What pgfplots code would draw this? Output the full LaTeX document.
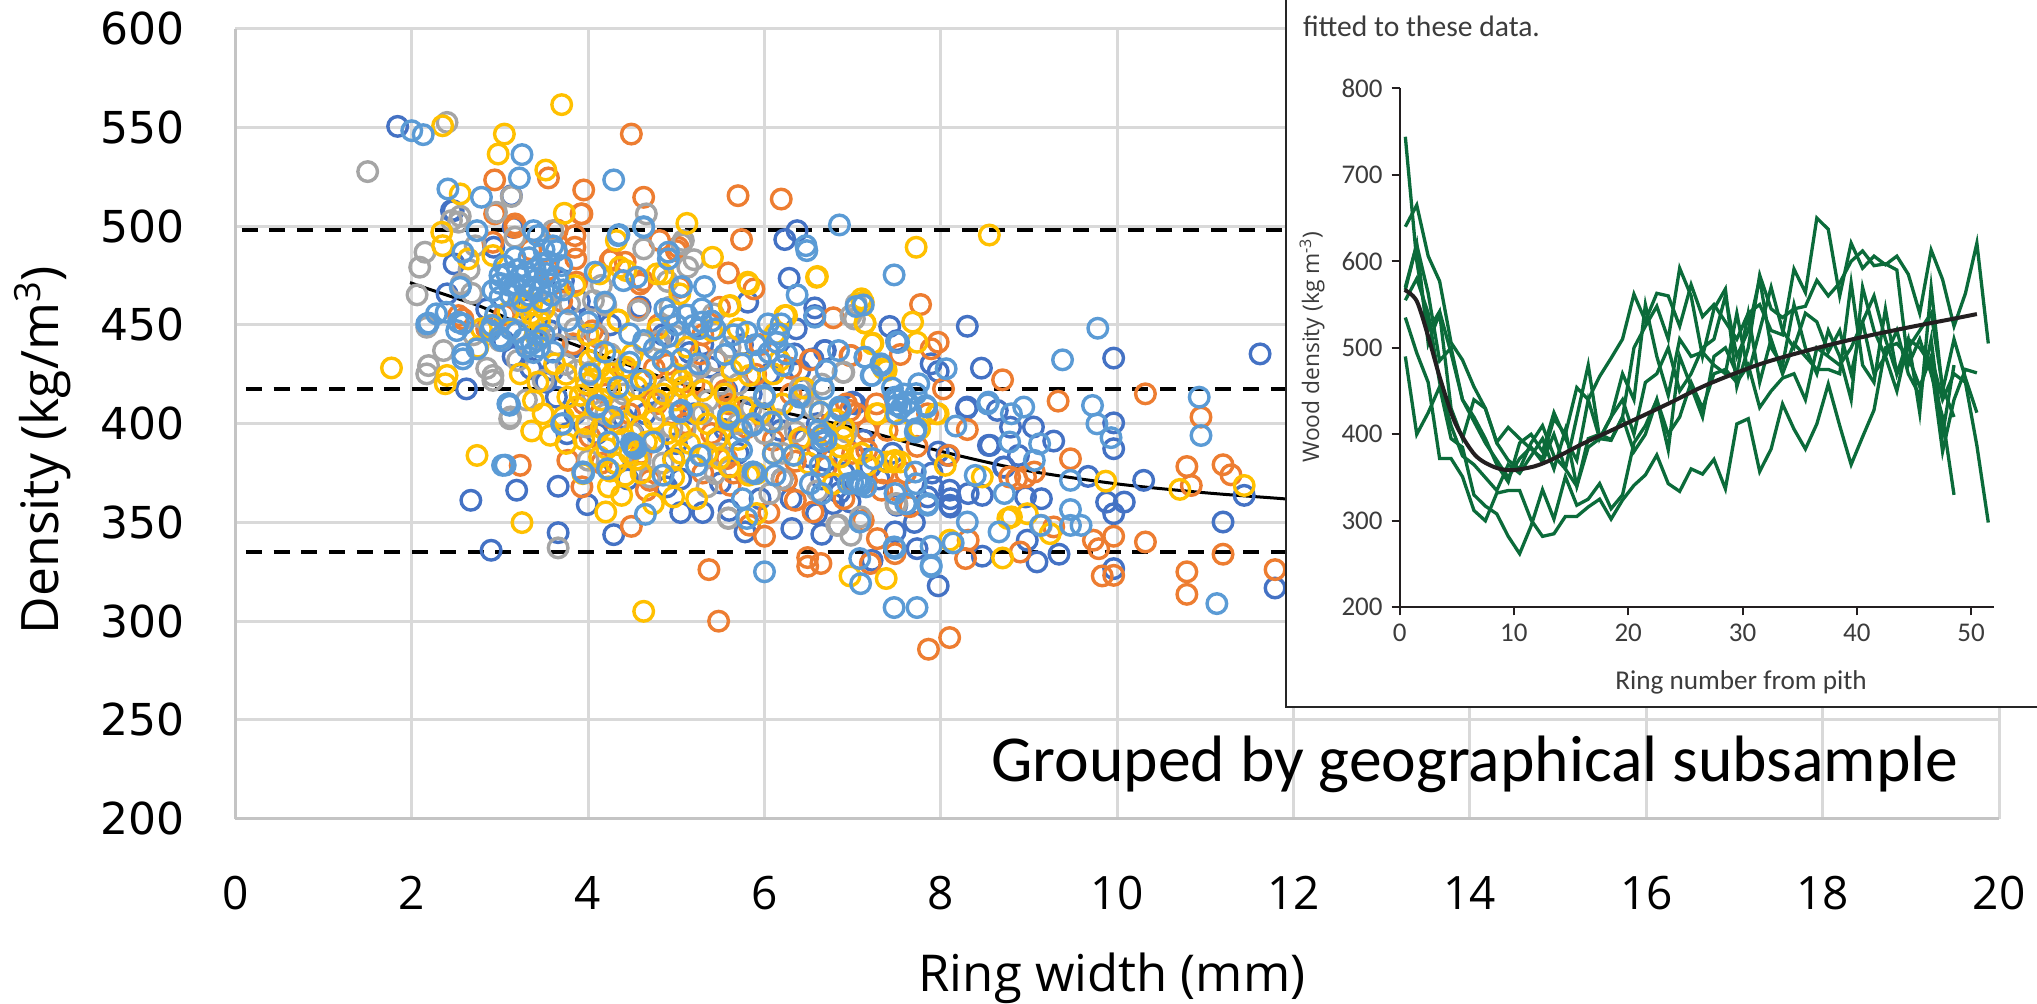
\documentclass[border=0pt]{standalone}
\usepackage{pgfplots}
\usepackage{fontspec}
\pgfplotsset{compat=1.18}
\setmainfont{Open Sans}
\newfontfamily\calfont{Carlito}
\newfontfamily\dejafont{DejaVu Sans}
\definecolor{gridc}{HTML}{D9D9D9}
\definecolor{axc}{HTML}{C4C4C4}
\definecolor{cblue}{HTML}{4472C4}
\definecolor{corange}{HTML}{ED7D31}
\definecolor{cgray}{HTML}{A5A5A5}
\definecolor{cyellow}{HTML}{FFC000}
\definecolor{clight}{HTML}{5B9BD5}
\definecolor{cgreen}{HTML}{0B6B3A}
\definecolor{ink}{HTML}{231F20}
\definecolor{inkg}{HTML}{3C3C3C}
\pgfplotsset{ser/.style={only marks,mark=o,mark size=4.9pt,color=#1,mark options={line width=1.7pt,draw=#1,solid}},
 gl/.style={cgreen,line width=1.65pt,line join=miter,no markers}}
\begin{document}
\begin{tikzpicture}[x=1pt,y=1pt]
\path[use as bounding box] (0,0) rectangle (1018.5,501.5);
\begin{axis}[at={(117.7pt,92.15pt)},anchor=south west,scale only axis,width=881.8pt,height=395.05pt,
 xmin=0,xmax=20,ymin=200,ymax=600,
 xtick={0,2,...,20},ytick={200,250,...,600},
 grid=major,major grid style={draw=gridc,line width=1.5pt},
 axis x line*=bottom,axis y line*=left,axis line style={-,draw=axc,line width=1.6pt},
 tick style={draw=none},
 /pgf/number format/assume math mode=true,
 xticklabel style={anchor=center,yshift=-37pt,font=\fontsize{23}{26}\selectfont,text=black},
 yticklabel style={anchor=east,xshift=-22pt,font=\dejafont\fontsize{22}{26}\selectfont,text=black},
 axis on top=false]
\addplot[black,line width=2pt,dash pattern=on 8pt off 5.85pt] coordinates {(0.07,497.8)(20,497.8)};
\addplot[black,line width=2pt,dash pattern=on 8pt off 5.85pt] coordinates {(0.12,417.3)(20,417.3)};
\addplot[black,line width=2pt,dash pattern=on 8pt off 5.85pt] coordinates {(0.12,335)(20,335)};
\addplot[black,line width=1.5pt,smooth] coordinates {(1.98,471.4)(2.4,465)(2.8,459)(3.3,449)(3.87,439.6)(4.5,429)(5,421)(6,408)(7,398)(8,386)(8.96,376.4)(10,369.5)(11,365)(11.88,362)(12.4,360)};
% dark blue
\addplot[ser=cblue] coordinates {(1.84,550.5)(2.45,507.8)(2.48,480.9)(2.40,465.7)(2.93,489.3)(3.13,515.4)(2.62,417.6)
(2.67,361.2)(3.19,366.3)(3.66,368.3)(3.99,359)(3.66,344.8)(2.9,335.9)(4.29,343.8)(3.76,394.9)(5.05,355)(5.3,355)(5.6,356.1)(5.78,345.2)
(6.37,497.7)(6.23,493.2)(6.28,473.6)(6.57,458.6)(6.57,454.7)(6.36,448)(5.81,461.5)(7.42,449.2)(8.3,449.3)(9.96,433.2)(11.62,435.3)(8.46,428.1)(7.89,430.3)(7.97,426.4)(8.3,408.4)(8.64,406.7)(9.05,398.3)(9.28,391.2)(9.96,400.4)(9.96,387.3)(8.54,389)(8.79,398.2)(8.88,383.9)(7.97,385.6)(9.67,373.3)(10.3,371.3)(11.44,363.7)(8.72,378)(6.69,437)(6.55,432.8)(7.0,410.9)(7.5,442)
(6.31,346.9)(6.65,344)(7.97,317.9)(11.79,316.8)(9.96,326.6)(11.2,350.2)(9.34,333.9)(9.09,330)(8.47,332.9)(7.73,336.7)(8.98,341)(7.48,345.2)(7.22,330.8)(8.11,357.8)(8.11,362)(8.31,364.6)(8.47,363.7)(9.14,362)(9.88,360.3)(10.08,360.3)(9.96,354.4)(8.96,362.9)(7.85,362.9)(6.59,354.4)
(2.47,507.8)(3.04,442)(3.57,447)(3.52,421)(3.72,472.4)(4.59,459)(4.02,453.9)(3.6,427)(3.83,438.7)(3.64,413.4)(3.15,499.4)
(6.68,437)(6.34,435.3)(6.4,426.9)(5.57,416.8)(5.38,428.6)(5.0,389.9)(4.97,382.3)(5.46,391.6)(4.51,395)(4.89,368)(4.4,403)(5.2,405)
(8.1,366.3)(8.1,358.7)(7.91,368)(8.29,407.6)(8.56,389)(8.07,384)(7.03,410)(7.12,391.6)(6.97,360.4)(6.78,359.5)(7.5,358.7)(6.7,381.4)(6.18,396.6)(6.52,383.1)(8.71,378)(6.0,405)(5.7,385)(6.2,372)(6.9,375)(4.7,415)(4.3,380)(5.5,370)(6.6,400)(7.3,372)(7.7,350)(5.95,362)
(3.3,458)(3.9,462)(4.25,450)(4.85,445)(5.15,436)(5.75,440)(6.05,425)(4.1,395)(4.65,405)(5.3,440)(5.85,415)(6.45,392)(6.85,365)(7.2,378)(5.05,372)(4.45,372)(3.85,405)(6.3,362)(7.45,385)(6.65,372)(7.9,375)(3.35,428)(3.15,434)(2.85,458)(5.55,397)};
% orange
\addplot[ser=corange] coordinates {(4.49,546.6)(2.94,523.4)(3.55,524.4)(3.95,518.3)(3.93,506.2)(4.63,514.6)(5.7,515.4)(5.74,493.2)(5.59,476.3)(3.85,495.2)(3.85,489.3)(3.86,483.4)(4.25,482.5)(4.42,481.7)(4.81,492.7)(5.0,487.6)(3.17,499.4)(2.94,506.2)(4.59,470.7)(5.49,458.9)(2.53,454.7)(2.85,448)(3.87,471.6)
(3.23,378.9)(3.77,381.4)(4.49,348)(5.37,326.1)(5.48,300)(3.93,368)
(6.19,513.7)(7.77,460.3)(8.7,422.2)(9.33,411.4)(10.32,415.1)(10.95,403.3)(9.47,382.2)(10.79,378.3)(11.2,379.2)(11.29,374.1)(10.84,368.7)(6.78,453.6)(5.88,468.2)(6.52,432.3)(7.97,441.2)(7.89,437.9)(7.54,435)(8.03,417.6)(8.3,397)(6.98,434.5)(8.09,383.9)(8.86,372.1)(8.96,373)(9.06,375.5)(7.73,388.5)
(7.86,285.8)(8.1,291.7)(6.0,343)(6.49,332.2)(6.49,327.8)(6.64,329.2)(9.83,322.9)(9.96,323.2)(10.79,325)(10.79,313.6)(11.79,326.1)(11.2,333.9)(10.32,340.1)(9.96,343)(9.73,341)(9.79,336.7)(8.9,335)(8.28,331.7)(8.31,341)(7.48,334.2)(7.2,329.2)(7.28,341.8)(7.12,351)(9.28,347.7)(6.55,355.3)(6.35,361.2)
(3.92,506.2)(4.27,483.4)(2.92,491.8)(3.17,501.1)(4.62,472.4)(2.58,453)(3.83,440.4)(4.11,443.8)(4.74,411.7)(4.57,458.1)(4.47,405)
(5.02,489.3)(5.04,469)(5.27,435.3)(6.97,434.5)(7.27,410)(6.93,410)(7.04,405)(6.33,406.7)(5.55,416.8)
(4.02,393.3)(4.66,366.3)(5.61,368.8)(5.83,348.6)(4.28,402.5)(4.7,371.3)(4.78,410.1)(5.57,382.3)
(6.25,371.3)(6.44,393.2)(6.1,391.6)(7.5,366.3)(7.16,386.5)(7.33,366.3)(6.86,407.6)(8.78,373)(7.39,396.6)(7.16,396.6)(6.97,406.7)
(4.2,415)(5.2,420)(5.9,425)(6.3,415)(5.1,400)(5.6,410)(4.6,385)(5.3,375)(6.7,378)(7.0,385)(7.6,375)(6.05,355)(5.4,395)(4.9,430)(4.4,428)
(3.55,478)(3.7,462)(4.05,447)(3.35,488)(4.8,450)(5.3,445)(5.95,440)(6.3,428)(5.8,398)(6.6,388)(6.75,400)(4.15,380)(3.95,410)(4.75,428)(5.65,375)(6.35,381)(7.35,375)(6.9,362)(7.65,358)(5.15,412)(4.95,405)(5.45,432)(3.65,498)(3.05,455)(7.85,405)};
% gray
\addplot[ser=cgray] coordinates {(2.4,552.5)(1.5,527.6)(2.96,507)(2.45,502.8)(2.53,502)(2.15,486.8)(2.09,479.2)(2.06,465.2)(2.17,448.8)(2.36,437)(2.19,429.4)(2.17,425.2)(2.92,424.4)(2.92,421.9)(3.13,515)(4.66,506.2)(4.63,488.5)(5.06,491)(5.2,483)
(3.66,337.1)(3.12,403.4)(5.59,352.3)
(6.98,454.7)(6.9,426)(6.65,420)(6.4,418)
(6.82,348.5)(6.98,343.5)(7.09,352.8)(9.14,348.5)(7.49,359.5)
(2.56,470.7)(2.68,466)(3.0,442)(3.19,447.2)(3.45,443.8)(4.06,462.3)(4.2,460)(3.87,426.9)(4.02,426)(4.57,457.3)(4.25,435.3)(4.63,440.4)(3.17,494.4)(3.6,497.7)(3.79,460.6)(3.53,460.6)(3.49,421.9)(3.3,412)
(5.08,492.7)(5.13,479.2)(6.89,426)(7.02,453)(7.04,460.6)(4.93,459)(5.42,455.6)(5.46,432)(6.44,413.4)(5.27,428.6)(5.61,438.7)(4.81,442)(4.98,444.6)(5.36,411.7)
(3.11,402.5)(4.0,381.5)(3.98,398.3)(4.7,373)(5.44,374.7)(5.48,384.8)(5.29,384)(5.59,352)(5.1,397.5)(4.85,406.7)(5.83,374.7)(4.59,381.5)
(6.06,364.6)(6.84,348.6)(6.4,414.3)(7.5,359.5)(5.89,374.7)(6.93,395.8)(6.65,394)
(4.4,415)(4.9,418)(5.3,405)(5.7,400)(6.0,395)(5.5,420)(4.5,395)(6.2,385)(4.2,405)
(2.72,490)(2.55,505)(2.65,478)(3.25,460)(3.55,452)(3.85,448)(4.1,445)(3.75,430)(4.35,408)(4.75,392)(4.95,398)(5.15,425)(5.7,420)(5.85,408)(6.15,402)(6.35,396)(6.55,408)(4.05,415)(3.65,440)(3.2,432)(2.85,428)(2.7,445)(4.15,470)(4.9,472)(6.2,372)(6.6,366)(5.35,368)(4.85,380)};
% yellow
\addplot[ser=cyellow] coordinates {(3.7,561.5)(2.35,550.8)(3.05,546.6)(2.98,536.5)(3.52,528.4)(2.55,516.3)(3.73,506.5)(2.34,496.9)(2.35,490.1)(2.64,483.4)(2.92,485.1)(4.32,492.7)(5.12,501.4)(5.41,484.2)(1.77,428.2)(2.4,424.4)(2.38,420.2)(4.85,475.8)(5.04,465.7)(5.6,459.5)(4.34,452.5)
(2.74,383.9)(3.25,349.9)(4.63,305)(3.36,396.3)(3.57,394.1)(3.49,405)(4.2,355.3)(4.97,362.9)(5.23,362)
(7.72,489.3)(8.55,495.5)(6.59,474.1)(5.82,470.7)(6.23,454.7)(7.14,451)(7.68,451.4)(7.23,440.7)(7.1,463.2)(7.73,441.2)(7.38,426.9)(7.95,405)(8.05,378.9)(9.87,370.9)(10.71,366.7)(11.44,368.7)(8.47,373)(7.48,381.4)
(7.38,321.6)(6.97,322.9)(8.7,332)(8.1,341)(9.24,344.3)(8.8,352.8)(8.98,354.4)
(2.89,449.7)(2.79,448)(3.09,456.4)(3.36,455.6)(3.36,460.6)(3.38,450.5)(2.75,438.7)(3.62,430.3)(3.23,425.2)(3.43,421)(3.38,411.7)(3.77,413.4)(3.91,414.3)(4.34,452.2)(3.85,469.9)(4.02,432)(4.13,428.6)(4.28,425.2)(4.2,421.9)(4.43,428.6)(4.55,418.5)(3.98,420.2)(4.1,437)(3.72,403.3)(3.87,408.4)(4.36,479.2)(4.13,475.8)(4.43,477.5)(4.78,475.8)
(5.81,471.6)(5.61,459.8)(6.25,454.7)(6.6,474.5)(7.12,461.5)(7.14,450.9)(7.22,440.4)(4.79,411.7)(5.3,416.8)(5.08,418.5)(5.7,448)(5.63,426.9)(5.83,424.4)(5.4,447.2)(4.79,448)(4.85,432)(5.12,438.7)(6.1,425.2)(6.17,432)(7.35,427.8)(6.0,413.4)(5.76,408.4)(5.61,405)(7.27,405)(5.06,421.9)(6.12,445.5)(5.76,430.3)
(3.94,374.7)(4.38,363.7)(4.23,368)(4.42,373.9)(4.74,359.5)(4.97,373)(5.04,395.8)(5.46,392.4)(5.49,382.3)(5.82,373.9)(4.21,387.4)(4.47,384.8)(3.98,400)(4.66,390.7)(4.32,379.8)(4.13,383.1)(4.97,381.5)(5.6,401.7)
(6.86,388.2)(6.86,383.1)(6.89,393.2)(6.78,369.6)(6.33,384)(6.08,400.8)(6.63,405.9)(6.4,392.4)(7.29,405)(7.54,396.6)(7.76,397.4)(7.97,405)(5.91,374.7)(6.1,384.8)(7.16,378.9)(5.91,354.5)(8.76,352)(7.46,380.6)(7.39,380.6)(7.54,380.6)
(4.35,400)(4.55,408)(4.75,402)(5.0,412)(5.25,405)(4.4,392)(4.6,375)(4.15,398)(3.75,390)(5.35,385)(5.55,415)
(3.4,445)(3.45,452)(3.3,462)(3.5,458)(4.05,422)(4.25,418)(4.3,432)(4.5,435)(4.65,422)(4.85,415)(5.0,425)(4.35,410)(4.15,412)(4.6,398)(4.9,395)(5.15,390)(5.35,400)(5.7,392)(5.95,405)(6.2,410)(6.45,418)(6.7,395)(6.8,402)(6.5,380)(4.55,382)(4.25,376)(5.05,385)(5.6,378)(3.95,392)(6.9,398)(6.95,378)(7.1,385)(3.75,425)(4.0,445)};
% light blue
\addplot[ser=clight] coordinates {(2.0,548.3)(2.13,546.3)(2.41,518.8)(2.79,514.6)(3.22,524.4)(3.25,536.2)(4.29,523.4)(4.63,499.4)(4.35,495.7)(2.74,497.7)(2.58,486.8)(2.55,469)(2.17,450.5)(2.28,455.6)(2.51,447.1)(2.58,450.5)(2.58,435.3)(2.91,449.7)(3.0,443.8)
(3.03,378.9)(3.71,400)(3.95,375)(4.22,377.2)(4.65,354.1)(3.1,410.1)
(6.85,500.6)(6.47,490.1)(6.48,487.6)(7.47,475.3)(6.37,465.2)(6.57,453.9)(7.04,459.3)(7.12,460.1)(9.78,448.3)(9.38,432.3)(8.06,427.8)(9.72,409.2)(9.77,399.9)(9.93,392.9)(10.93,413.4)(10.95,394)(8.94,408.4)(8.53,410)(8.8,405)(8.17,398.8)(8.78,390.7)(9.47,371.3)(9.06,381.4)(9.12,389.8)(8.39,373.8)(7.5,441.2)(7.14,433.6)(7.32,430.3)(7.22,424.4)(7.75,420.2)(7.83,409.2)(7.72,397.4)
(6.0,325)(7.09,319)(7.47,306.9)(7.73,306.9)(11.13,308.9)(7.89,328.3)(7.89,337.9)(7.08,331.7)(7.47,337.6)(8.14,339.6)(8.66,345.2)(8.3,350.2)(9.13,348.5)(9.47,348.5)(9.59,348.5)(9.47,356.5)(7.08,350.2)(8.72,364.6)(7.85,358.7)(7.6,359.5)
(3.0,475)(3.08,475.8)(3.17,484.2)(3.38,497.7)(3.43,495.2)(3.64,487.6)(3.47,480.9)(3.3,476.7)(3.42,473.3)(3.57,470.7)(2.92,467.4)(3.0,464)(3.17,470.7)(3.28,469.9)(3.36,468.2)(3.45,467.4)(3.72,467.7)(2.89,447.1)(3.02,442.1)(3.19,446.3)(3.36,440.4)(3.3,438.7)(3.45,438.7)(3.6,436.2)(3.43,442.1)(2.58,432.8)(2.74,437.9)(2.53,451.4)(2.39,456.4)(2.19,450.9)(3.77,452.2)(4.0,451.4)(4.08,476.7)(4.4,472.4)(4.55,474.1)(4.19,461.5)(4.19,436.2)(4.02,425.2)(4.34,418.5)(4.6,421.9)(4.47,431.1)(4.63,442.1)(4.47,445.5)(3.09,410)(4.11,409.2)(4.34,495.2)(4.63,499.7)(3.11,470)(3.23,474)(3.53,476)(3.6,490)(3.0,471)(3.38,469)
(3.05,480)(3.12,465)(3.2,478)(3.33,484)(3.5,488)(3.55,482)(3.4,478)(3.65,474)(3.7,480)(3.25,462)(3.33,465)(3.48,462)(3.58,465)(3.12,448)(3.27,443)(3.5,445)(3.38,436)(2.95,455)
(4.91,486.8)(4.91,483.4)(5.06,469.4)(5.32,469.4)(4.87,458.1)(4.93,454.7)(5.29,458.1)(5.29,451.4)(5.19,449.7)(5.44,448)(5.8,446.3)(6.04,450.5)(6.19,450.5)(6.16,445.5)(6.14,441.2)(6.25,435.3)(6.21,429.4)(4.85,432)(5.06,432.8)(5.25,430.3)(5.74,430.3)(5.95,432)(6.0,413.4)(5.06,406.7)(5.59,404)(6.4,413.4)(6.85,408.4)(6.67,417.6)(6.63,405.8)(6.84,437)(7.14,433.6)(7.33,429.4)(7.21,424.4)(7.52,441.2)(7.48,413.4)(7.55,408)(7.62,411)(6.7,426.9)
(3.7,399.7)(3.06,379)(3.94,375.6)(4.51,388.2)(4.49,390)(4.54,387.5)(4.52,389)(4.23,390.7)(4.28,403.4)(4.74,390.7)(4.85,373.9)(5.04,405.9)(5.27,384)(5.23,378.9)(5.74,386.5)(5.59,402.5)(5.74,396.6)(5.87,399.2)(5.75,362)(5.8,352)(4.1,408.4)(3.11,409.3)(5.87,375.6)
(6.0,414.3)(6.4,414.3)(6.33,406.7)(6.08,400.8)(6.65,394.1)(6.7,392)(6.61,396.5)(6.65,391)(6.86,406.7)(5.87,400)(6.1,384.8)(6.33,384)(5.89,374.7)(6.12,373.9)(6.63,378.9)(6.52,369.6)(6.65,364.6)(7.08,370)(7.0,370)(7.1,369)(7.15,368)(7.05,371)(6.95,369.6)(7.23,382.3)(7.48,364.6)(7.61,359.5)(7.71,375.5)(7.72,369.6)(7.85,359.5)(7.48,336.8)(7.89,327.5)(8.54,410.9)(7.5,409.3)(7.61,410.1)(7.84,408.4)(7.72,415.2)(7.71,395.8)(7.5,405)
(5.12,455)(5.25,448)(5.4,452)(5.65,445)(5.55,435)(5.9,440)(6.05,436)(4.9,444)(5.0,450)(4.75,438)(7.5,412)(7.58,415)(7.66,406)(7.45,418)};
\end{axis}
% inset panel
\fill[white] (643,148) rectangle (1025,510);
\draw[black!85,line width=1pt] (1025,148) -- (643,148) -- (643,510);
\begin{axis}[at={(699.8pt,197.85pt)},anchor=south west,scale only axis,width=297.2pt,height=259.5pt,
 xmin=0,xmax=52,ymin=200,ymax=800,
 xtick={0,10,...,50},ytick={200,300,...,800},
 axis x line*=bottom,axis y line*=left,axis line style={-,draw=ink,line width=1pt},
 tick style={draw=ink,line width=1pt},tick align=outside,major tick length=4pt,
 /pgf/number format/assume math mode=true,
 xticklabel style={anchor=center,yshift=-9pt,font=\calfont\fontsize{13.5}{15}\selectfont,text=inkg},
 yticklabel style={anchor=east,xshift=-1pt,font=\calfont\fontsize{13.5}{15}\selectfont,text=inkg},
 clip=false]
\addplot[gl] coordinates {(0.5,640)(1.5,665)(2.5,606)(3.5,577)(4.5,506)(5.5,486)(6.5,455)(7.5,430)(8.5,391)(9.5,408)(10.5,395)(11.5,383)(12.5,372)(13.5,418)(14.5,400)(15.5,454)(16.5,440)(17.5,467)(18.5,488)(19.5,510)(20.5,562)(21.5,531)(22.5,563)(23.5,560)(24.5,525)(25.5,573)(26.5,536)(27.5,550)(28.5,530)(29.5,510)(30.5,540)(31.5,550)(32.5,520)(33.5,515)(34.5,591)(35.5,564)(36.5,650)(37.5,637)(38.5,560)(39.5,621)(40.5,592)(41.5,606)(42.5,596)(43.5,606)(44.5,585)(45.5,540)(46.5,613)(47.5,579)(48.5,525)(49.5,563)(50.5,621)(51.5,505)};
\addplot[gl] coordinates {(0.5,744)(1.5,600)(2.5,520)(3.5,542)(4.5,494)(5.5,440)(6.5,415)(7.5,390)(8.5,370)(9.5,350)(10.5,372)(11.5,385)(12.5,368)(13.5,400)(14.5,360)(15.5,340)(16.5,395)(17.5,400)(18.5,394)(19.5,420)(20.5,500)(21.5,525)(22.5,548)(23.5,510)(24.5,592)(25.5,560)(26.5,490)(27.5,545)(28.5,568)(29.5,455)(30.5,500)(31.5,584)(32.5,545)(33.5,535)(34.5,545)(35.5,548)(36.5,578)(37.5,560)(38.5,575)(39.5,600)(40.5,612)(41.5,595)(42.5,597)(43.5,590)(44.5,480)(45.5,510)(46.5,470)(47.5,420)(48.5,330)};
\addplot[gl] coordinates {(0.5,567)(1.5,619)(2.5,563)(3.5,485)(4.5,500)(5.5,440)(6.5,420)(7.5,395)(8.5,365)(9.5,345)(10.5,390)(11.5,400)(12.5,380)(13.5,425)(14.5,395)(15.5,370)(16.5,440)(17.5,395)(18.5,393)(19.5,420)(20.5,380)(21.5,400)(22.5,440)(23.5,382)(24.5,490)(25.5,455)(26.5,420)(27.5,490)(28.5,500)(29.5,470)(30.5,540)(31.5,460)(32.5,510)(33.5,470)(34.5,505)(35.5,490)(36.5,475)(37.5,475)(38.5,470)(39.5,575)(40.5,480)(41.5,460)(42.5,545)(43.5,470)(44.5,510)(45.5,425)(46.5,570)(47.5,450)(48.5,510)(49.5,465)(50.5,425)};
\addplot[gl] coordinates {(0.5,535)(1.5,494)(2.5,460)(3.5,372)(4.5,372)(5.5,351)(6.5,312)(7.5,300)(8.5,332)(9.5,335)(10.5,335)(11.5,301)(12.5,282)(13.5,285)(14.5,305)(15.5,305)(16.5,316)(17.5,325)(18.5,302)(19.5,324)(20.5,341)(21.5,353)(22.5,376)(23.5,343)(24.5,334)(25.5,360)(26.5,354)(27.5,371)(28.5,337)(29.5,412)(30.5,418)(31.5,357)(32.5,383)(33.5,435)(34.5,406)(35.5,383)(36.5,412)(37.5,458)(38.5,410)(39.5,365)(40.5,397)(41.5,428)(42.5,500)(43.5,505)(44.5,490)(45.5,455)(46.5,490)(47.5,440)(48.5,470)(49.5,460)(50.5,387)(51.5,298)};
\addplot[gl] coordinates {(0.5,490)(1.5,400)(2.5,425)(3.5,455)(4.5,395)(5.5,385)(6.5,330)(7.5,317)(8.5,308)(9.5,282)(10.5,262)(11.5,294)(12.5,336)(13.5,302)(14.5,351)(15.5,318)(16.5,325)(17.5,343)(18.5,314)(19.5,330)(20.5,390)(21.5,410)(22.5,440)(23.5,400)(24.5,420)(25.5,460)(26.5,430)(27.5,470)(28.5,475)(29.5,460)(30.5,480)(31.5,431)(32.5,450)(33.5,465)(34.5,470)(35.5,440)(36.5,500)(37.5,490)(38.5,480)(39.5,500)(40.5,530)(41.5,470)(42.5,490)(43.5,450)(44.5,510)(45.5,500)(46.5,480)(47.5,380)(48.5,440)(49.5,475)(50.5,471)};
\addplot[gl] coordinates {(0.5,570)(1.5,620)(2.5,505)(3.5,540)(4.5,430)(5.5,395)(6.5,440)(7.5,430)(8.5,390)(9.5,370)(10.5,360)(11.5,390)(12.5,410)(13.5,375)(14.5,360)(15.5,420)(16.5,480)(17.5,395)(18.5,420)(19.5,440)(20.5,400)(21.5,460)(22.5,470)(23.5,500)(24.5,450)(25.5,470)(26.5,500)(27.5,510)(28.5,560)(29.5,490)(30.5,520)(31.5,580)(32.5,500)(33.5,480)(34.5,550)(35.5,500)(36.5,470)(37.5,520)(38.5,490)(39.5,440)(40.5,570)(41.5,520)(42.5,490)(43.5,520)(44.5,470)(45.5,445)(46.5,510)(47.5,400)(48.5,480)};
\addplot[gl] coordinates {(0.5,555)(1.5,580)(2.5,540)(3.5,460)(4.5,410)(5.5,375)(6.5,365)(7.5,350)(8.5,335)(9.5,365)(10.5,355)(11.5,375)(12.5,395)(13.5,360)(14.5,405)(15.5,340)(16.5,385)(17.5,395)(18.5,420)(19.5,470)(20.5,440)(21.5,550)(22.5,490)(23.5,445)(24.5,510)(25.5,490)(26.5,495)(27.5,480)(28.5,470)(29.5,540)(30.5,470)(31.5,520)(32.5,570)(33.5,520)(34.5,500)(35.5,540)(36.5,530)(37.5,495)(38.5,520)(39.5,470)(40.5,530)(41.5,560)(42.5,510)(43.5,470)(44.5,500)(45.5,520)(46.5,540)(47.5,455)(48.5,420)};
\addplot[ink,line width=2pt,smooth,no markers] coordinates {(0.43,567)(1.5,554)(2.57,510)(3.6,462)(4.9,412)(6.6,376)(8.3,362)(9.8,358.5)(11.8,363)(13.5,372)(16,389)(18.6,405)(21.2,421)(23.75,437)(27,458)(31.5,481)(35.7,497)(40,511)(44.3,523)(48.6,534)(50.5,539)};
\end{axis}
% texts
\node[rotate=90,font=\fontsize{25.8}{28}\selectfont] at (21.5,276.5) {Density (kg/m\textsuperscript{3})};
\node[font=\fontsize{25.4}{28}\selectfont] at (556,12.5) {Ring width (mm)};
\node[font=\calfont\fontsize{32.8}{36}\selectfont] at (737.5,119.5) {Grouped by geographical subsample};
\node[anchor=west,font=\calfont\fontsize{14.8}{16}\selectfont,text=inkg] at (648,488.5) {fitted to these data.};
\node[font=\calfont\fontsize{13.6}{16}\selectfont,text=inkg] at (870.5,160.5) {Ring number from pith};
\node[rotate=90,font=\fontsize{11.4}{13}\selectfont,text=inkg] at (656,328) {Wood density (kg m\textsuperscript{-3})};
\end{tikzpicture}
\end{document}
